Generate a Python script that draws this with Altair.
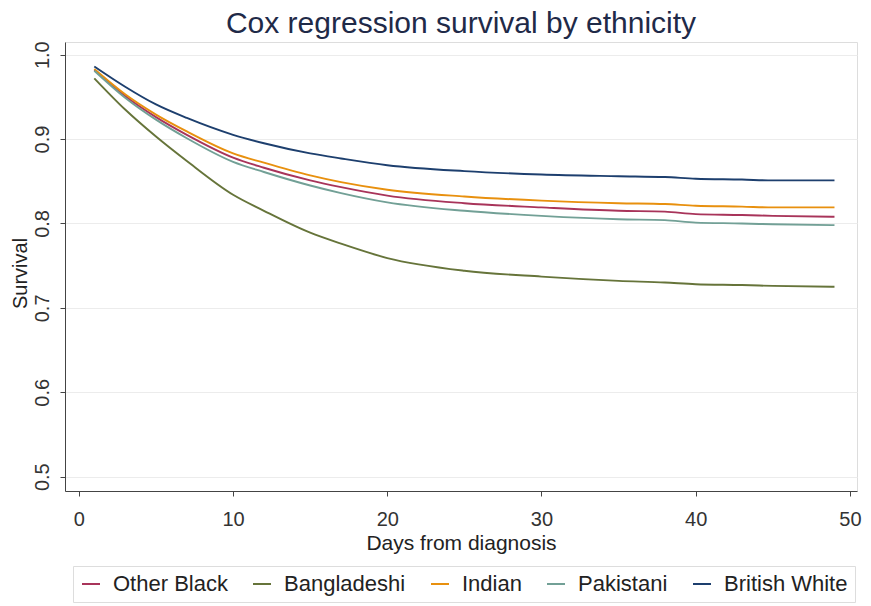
import altair as alt
import pandas as pd

days = [1, 3, 5, 7, 10, 12, 15, 17, 20, 25, 30, 35, 38, 40, 43, 45, 49]

groups = ["Other Black", "Bangladeshi", "Indian", "Pakistani", "British White"]
colors = ["#a8345a", "#66743a", "#e8900e", "#72a096", "#1d3f6e"]

other_black = [0.982, 0.951, 0.926, 0.905, 0.878, 0.866, 0.851, 0.843, 0.833, 0.824, 0.819, 0.815, 0.814, 0.811, 0.810, 0.809, 0.808]
bangladeshi = [0.972, 0.935, 0.903, 0.874, 0.834, 0.815, 0.789, 0.776, 0.759, 0.744, 0.737, 0.732, 0.730, 0.728, 0.727, 0.726, 0.725]
indian = [0.983, 0.953, 0.929, 0.909, 0.883, 0.872, 0.857, 0.849, 0.840, 0.832, 0.827, 0.824, 0.823, 0.821, 0.820, 0.819, 0.819]
pakistani = [0.981, 0.949, 0.923, 0.901, 0.873, 0.861, 0.845, 0.836, 0.825, 0.815, 0.809, 0.805, 0.804, 0.801, 0.800, 0.799, 0.798]
british_white = [0.986, 0.962, 0.941, 0.925, 0.905, 0.895, 0.883, 0.877, 0.869, 0.862, 0.858, 0.856, 0.855, 0.853, 0.852, 0.851, 0.851]

series = [other_black, bangladeshi, indian, pakistani, british_white]

rows = []
for g, vals in zip(groups, series):
    for d, v in zip(days, vals):
        rows.append({"day": d, "survival": v, "group": g})
df = pd.DataFrame(rows)

FONT = "Liberation Sans"

chart = alt.Chart(df).mark_line(strokeWidth=1.9, interpolate="monotone").encode(
    x=alt.X("day:Q",
            scale=alt.Scale(domain=[-0.9, 50.46], nice=False, zero=False),
            axis=alt.Axis(values=[0, 10, 20, 30, 40, 50], title="Days from diagnosis",
                          grid=False, tickSize=5, labelFontSize=20, titleFontSize=21,
                          labelPadding=13, titlePadding=3, labelFont=FONT, titleFont=FONT,
                          labelColor="#333333", titleColor="#222222", titleFontWeight="normal",
                          domainColor="#444444", tickColor="#444444")),
    y=alt.Y("survival:Q",
            scale=alt.Scale(domain=[0.483, 1.015], nice=False, zero=False),
            axis=alt.Axis(values=[0.5, 0.6, 0.7, 0.8, 0.9, 1.0], format=".1f", title="Survival",
                          grid=True, gridColor="#ececec", tickSize=5, labelFontSize=20,
                          titleFontSize=20, labelAngle=270, labelAlign="center",
                          labelBaseline="bottom", labelPadding=8, labelFont=FONT, titleFont=FONT,
                          labelColor="#333333", titleColor="#222222", titleFontWeight="normal",
                          titleAngle=270, titleAlign="center", titleBaseline="bottom",
                          titleX=-35, titleY=231,
                          domainColor="#444444", tickColor="#444444")),
    color=alt.Color("group:N",
                    scale=alt.Scale(domain=groups, range=colors),
                    sort=groups,
                    legend=alt.Legend(title=None, orient="none", legendX=8, legendY=524,
                                      direction="horizontal", columns=5,
                                      symbolType="stroke", symbolSize=324, symbolStrokeWidth=2,
                                      labelFontSize=22, labelFont=FONT, labelColor="#222222",
                                      labelOffset=11, columnPadding=21, padding=7,
                                      strokeColor="#dddddd")),
).properties(
    width=792,
    height=449,
    title=alt.TitleParams("Cox regression survival by ethnicity", fontSize=30, font=FONT,
                          fontWeight="normal", color="#1f2a48", anchor="middle", offset=2),
    autosize=alt.AutoSizeParams(type="none"),
    padding={"left": 57, "top": 34, "right": 6, "bottom": 112},
).configure_view(stroke=None).configure(background="white")

chart.save("out.html", embed_options={"renderer": "svg", "actions": False})
